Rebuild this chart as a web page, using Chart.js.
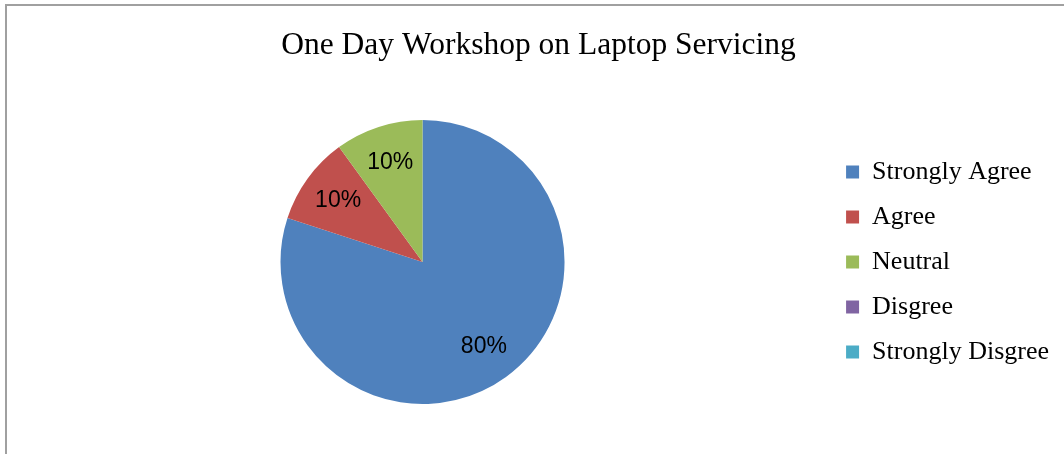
<!DOCTYPE html>
<html>
<head>
<meta charset="utf-8">
<script src="https://cdn.jsdelivr.net/npm/chart.js@4/dist/chart.umd.min.js"></script>
<style>
  html, body { margin: 0; padding: 0; background: #ffffff; width: 1064px; height: 454px; overflow: hidden; }
  #frame { position: absolute; left: 5px; top: 4px; width: 1080px; height: 470px;
           border-left: 2px solid #a0a0a0; border-top: 2px solid #a0a0a0; box-sizing: border-box; }
  #c { position: absolute; left: 0; top: 0; }
</style>
</head>
<body>
<div id="frame"></div>
<canvas id="c" width="1064" height="454"></canvas>
<script>
const chartTitle = "One Day Workshop on Laptop Servicing";
const categories = ["Strongly Agree", "Agree", "Neutral", "Disgree", "Strongly Disgree"];
const values = [80, 10, 10, 0, 0];
const sliceColors = ["#4F81BD", "#C0504D", "#9BBB59", "#8064A2", "#4BACC6"];

const pctLabels = {
  id: "pctLabels",
  afterDatasetsDraw(chart) {
    const ctx = chart.ctx;
    const meta = chart.getDatasetMeta(0);
    const data = chart.data.datasets[0].data;
    const total = data.reduce((a, b) => a + b, 0);
    ctx.save();
    ctx.font = "23px 'Liberation Sans', Arial, sans-serif";
    ctx.fillStyle = "#000000";
    ctx.textAlign = "center";
    ctx.textBaseline = "middle";
    meta.data.forEach((arc, i) => {
      if (!data[i]) return;
      const p = arc.getProps(["x", "y", "startAngle", "endAngle", "outerRadius"], true);
      const mid = (p.startAngle + p.endAngle) / 2;
      const r = p.outerRadius * 0.735;
      const pct = Math.round(data[i] / total * 100) + "%";
      ctx.fillText(pct, p.x + Math.cos(mid) * r, p.y + Math.sin(mid) * r);
    });
    ctx.restore();
  }
};

new Chart(document.getElementById("c"), {
  type: "pie",
  data: {
    labels: categories,
    datasets: [{
      data: values,
      backgroundColor: sliceColors,
      borderWidth: 0,
      hoverOffset: 0
    }]
  },
  options: {
    responsive: false,
    animation: false,
    devicePixelRatio: 1,
    layout: { padding: { left: 18, right: 5, top: 0, bottom: 50 } },
    plugins: {
      title: {
        display: true,
        text: chartTitle,
        color: "#000000",
        font: { family: "'Liberation Serif', 'Times New Roman', serif", size: 31.5, weight: "normal", lineHeight: 1.2 },
        padding: { top: 26.6, bottom: 55.6 }
      },
      legend: {
        position: "right",
        fullSize: false,
        align: "center",
        labels: {
          color: "#000000",
          font: { family: "'Liberation Serif', 'Times New Roman', serif", size: 26 },
          boxWidth: 13,
          boxHeight: 13,
          padding: 19
        }
      },
      tooltip: { enabled: false }
    }
  },
  plugins: [pctLabels]
});
</script>
</body>
</html>
